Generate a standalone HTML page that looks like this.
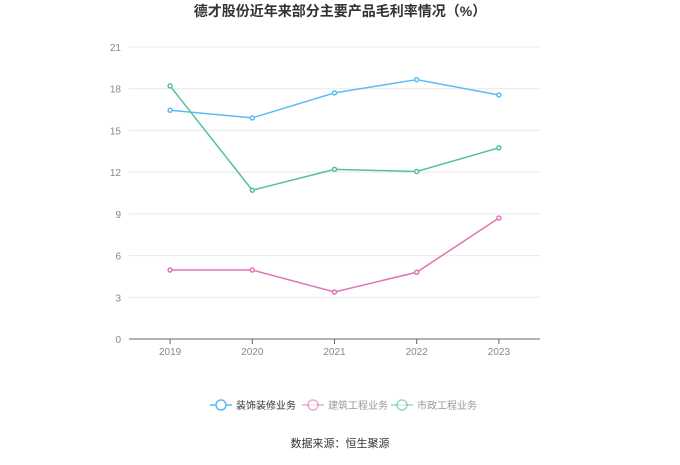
<!DOCTYPE html>
<html><head><meta charset="utf-8"><style>
body{margin:0;background:#fff;width:680px;height:460px;overflow:hidden;font-family:"Liberation Sans","Noto Sans CJK SC",sans-serif}
</style></head><body>
<svg id="c" width="680" height="460" xmlns="http://www.w3.org/2000/svg"></svg>
<script>
const years=["2019","2020","2021","2022","2023"];
const decor=[16.45,15.9,17.7,18.65,17.55];
const build=[4.96,4.96,3.38,4.8,8.7];
const muni=[18.2,10.7,12.2,12.05,13.75];
const yTicks=[0,3,6,9,12,15,18,21];
const seriesNames=["装饰装修业务","建筑工程业务","市政工程业务"];
const NS="http://www.w3.org/2000/svg";
const svg=document.getElementById('c');
function el(t,a,p){const e=document.createElementNS(NS,t);for(const k in a)e.setAttribute(k,a[k]);(p||svg).appendChild(e);return e;}
const x0=129,x1=540,y0=339,y1=47;
const xs=i=>x0+(x1-x0)/years.length*(i+0.5);
const ys=v=>y0-(y0-y1)*v/21;
let t=el('text',{x:340,y:16,'text-anchor':'middle','font-size':14,'font-weight':'bold',fill:'#333'});t.textContent="德才股份近年来部分主要产品毛利率情况（%）";


yTicks.forEach(v=>{
 const g=el('line',{x1:x0,x2:x1,y1:ys(v),y2:ys(v),stroke:v?'#e8e8ee':'#666','stroke-width':1});
 
 
 const l=el('text',{x:x0-8,y:ys(v)+4,'text-anchor':'end','font-size':10,fill:'#888'});l.textContent=v;
 
 
});
years.forEach((y,i)=>{
 const tk=el('line',{x1:xs(i),x2:xs(i),y1:y0,y2:y0+5,stroke:'#666'});
 
 
 const l=el('text',{x:xs(i),y:y0+16,'text-anchor':'middle','font-size':10,fill:'#888'});l.textContent=y;
 
 
});
const cols=['#5bbcf5','#e074b4','#56bfa0'];
[decor,build,muni].forEach((d,s)=>{
 const p=el('polyline',{points:d.map((v,i)=>xs(i)+','+ys(v)).join(' '),fill:'none',stroke:cols[s],'stroke-width':1.5});
 
 
 d.forEach((v,i)=>{
  const c=el('circle',{cx:xs(i),cy:ys(v),r:2,fill:'#fff',stroke:cols[s],'stroke-width':1.5});
  
  
 });
});
const lx=[210,302,391];
seriesNames.forEach((n,s)=>{
 const g=el('g',{});
 
 
 el('line',{x1:lx[s],x2:lx[s]+22,y1:405,y2:405,stroke:cols[s],'stroke-width':1.5,opacity:s?0.6:1},g);
 el('circle',{cx:lx[s]+11,cy:405,r:5,fill:'#fff',stroke:cols[s],'stroke-width':1.5,opacity:s?0.6:1},g);
 const tt=el('text',{x:lx[s]+26,y:409,'font-size':10,fill:s?'#999':'#333'},g);tt.textContent=n;
});
t=el('text',{x:340,y:447,'text-anchor':'middle','font-size':11,fill:'#333'});t.textContent="数据来源：恒生聚源";


</script>
</body></html>
